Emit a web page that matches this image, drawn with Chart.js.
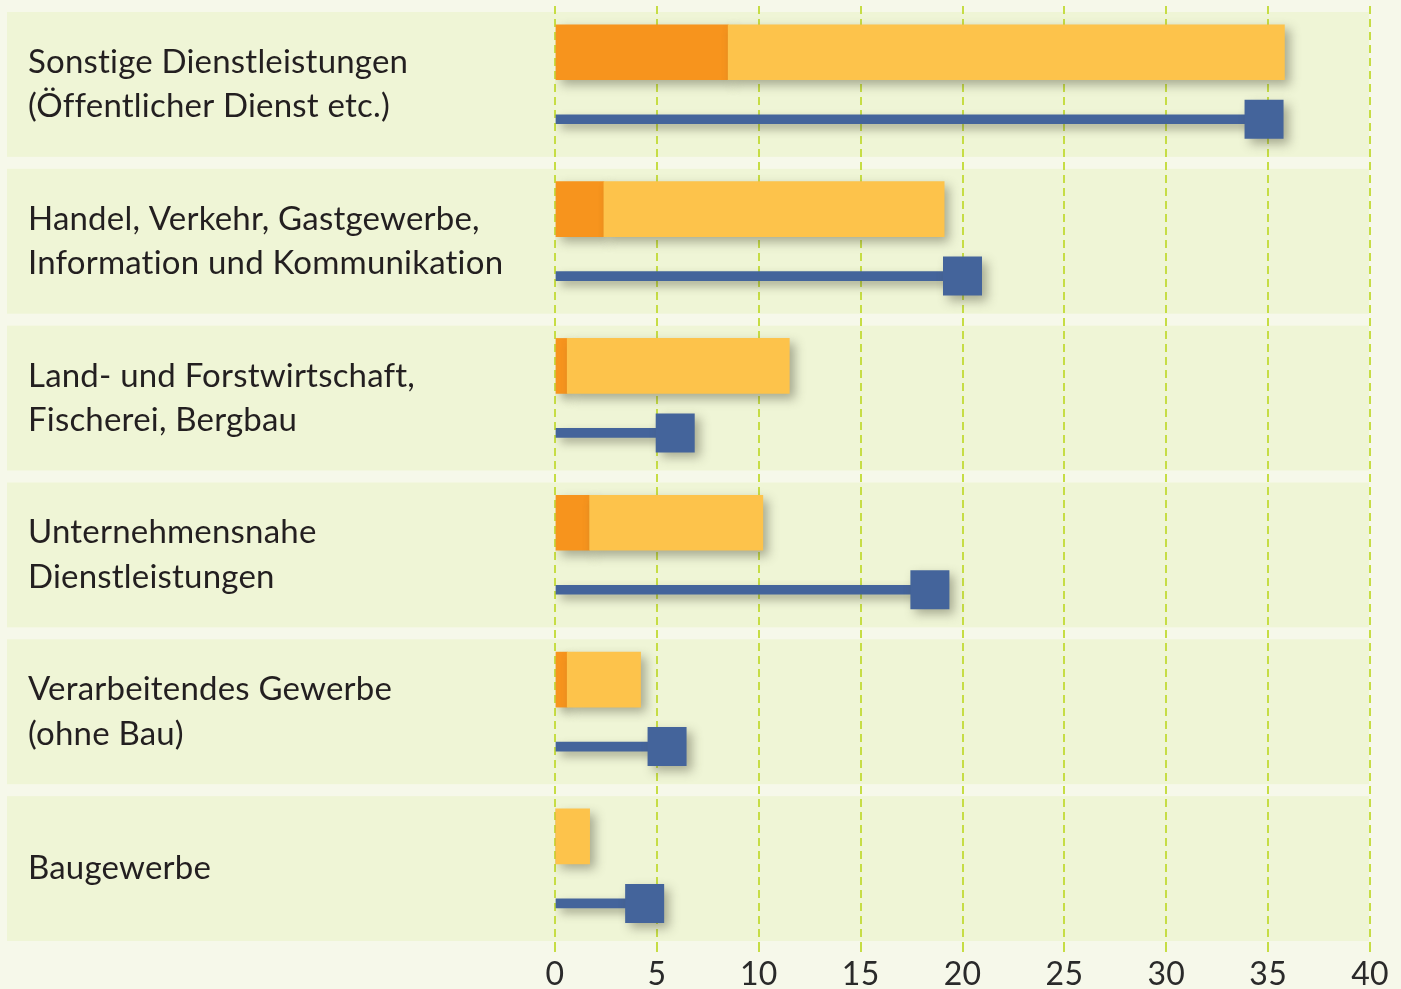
<!DOCTYPE html>
<html>
<head>
<meta charset="utf-8">
<script src="https://cdn.jsdelivr.net/npm/chart.js@4/dist/chart.umd.min.js"></script>
<style>
  html, body { margin: 0; padding: 0; background: #f6f8ea; }
  #wrap { width: 1401px; height: 989px; position: relative; }
</style>
</head>
<body>
<div id="wrap"><canvas id="c"></canvas></div>
<script>
// ---- data ----
const categories = [
  ["Sonstige Dienstleistungen", "(Öffentlicher Dienst etc.)"],
  ["Handel, Verkehr, Gastgewerbe,", "Information und Kommunikation"],
  ["Land- und Forstwirtschaft,", "Fischerei, Bergbau"],
  ["Unternehmensnahe", "Dienstleistungen"],
  ["Verarbeitendes Gewerbe", "(ohne Bau)"],
  ["Baugewerbe"]
];
const darkValues  = [8.5, 2.4, 0.6, 1.7, 0.6, 0];
const totalValues = [35.8, 19.1, 11.5, 10.2, 4.2, 1.7];
const lineValues  = [34.8, 20.0, 5.9, 18.4, 5.5, 4.4];
const xTicks = [0, 5, 10, 15, 20, 25, 30, 35, 40];

// ---- style ----
const FONT = "Lato, 'Open Sans', sans-serif";
const DARK = '#f7941d', LIGHT = '#fdc34b', BLUE = '#44649b';
const BAR_OFF = -0.205;   // position of the bar row inside a category (category units)
const LINE_OFF = 0.222;   // position of the lollipop row inside a category
const SQUARE_SIDE = 39;

const shadowPlugin = {
  id: 'shadow',
  beforeDatasetDraw(chart) {
    const ctx = chart.ctx;
    ctx.save();
    ctx.shadowColor = 'rgba(70,70,50,0.42)';
    ctx.shadowBlur = 10;
    ctx.shadowOffsetX = 5;
    ctx.shadowOffsetY = 5;
  },
  afterDatasetDraw(chart) { chart.ctx.restore(); }
};

const panelPlugin = {
  id: 'panels',
  beforeDraw(chart) {
    const ctx = chart.ctx, ca = chart.chartArea, y = chart.scales.y;
    ctx.save();
    ctx.fillStyle = '#f6f8ea';
    ctx.fillRect(0, 0, chart.width, chart.height);
    const step = ca.height / categories.length;
    ctx.fillStyle = '#eff5d6';
    categories.forEach((c, i) => {
      const cy = y.getPixelForTick(i);
      ctx.fillRect(7, cy - step / 2 + 6, ca.right - 8, step - 12);
    });
    ctx.restore();
    // tiny letter spacing keeps "ti" from forming a ligature
    if ('letterSpacing' in ctx) ctx.letterSpacing = '0.2px';
  }
};

const barCommon = { yAxisID: 'yl', grouped: false, borderWidth: 0 };

new Chart(document.getElementById('c'), {
  type: 'bar',
  data: {
    labels: categories,
    datasets: [
      Object.assign({ label: 'dark', order: 2, backgroundColor: DARK, barThickness: 55,
        data: darkValues.map((v, i) => ({ x: [0, v], y: i + BAR_OFF })) }, barCommon),
      Object.assign({ label: 'light', order: 1, backgroundColor: LIGHT, barThickness: 55,
        data: darkValues.map((d, i) => ({ x: [d, totalValues[i]], y: i + BAR_OFF })) }, barCommon),
      Object.assign({ label: 'stem', order: 3, backgroundColor: BLUE, barThickness: 9,
        data: lineValues.map((v, i) => ({ x: [0, v], y: i + LINE_OFF })) }, barCommon),
      { type: 'line', label: 'marker', yAxisID: 'yl', order: 0,
        data: lineValues.map((v, i) => ({ x: v, y: i + LINE_OFF })),
        showLine: false, pointStyle: 'rect',
        pointRadius: SQUARE_SIDE / 2 / Math.SQRT1_2, pointHoverRadius: SQUARE_SIDE / 2 / Math.SQRT1_2,
        pointBackgroundColor: BLUE, pointBorderWidth: 0, borderWidth: 0 }
    ]
  },
  options: {
    indexAxis: 'y',
    responsive: true,
    maintainAspectRatio: false,
    animation: false,
    events: [],
    layout: { autoPadding: false, padding: { left: 28, right: 31, top: 6, bottom: 0 } },
    plugins: { legend: { display: false }, tooltip: { enabled: false } },
    scales: {
      x: {
        type: 'linear', min: 0, max: 40, stacked: false,
        afterBuildTicks(s) { s.ticks = xTicks.map(v => ({ value: v })); },
        grid: { color: '#c6dd45', lineWidth: 2, drawTicks: true, tickLength: 5,
                tickColor: '#c6dd45', tickWidth: 2, tickBorderDash: [8, 5] },
        border: { display: false, dash: [8, 5] },
        ticks: { color: '#2a2a2a', font: { family: FONT, size: 32, lineHeight: 1.2 }, padding: 3 },
        afterFit(s) { s.height = 42; s.paddingLeft = 0; s.paddingRight = 0; }
      },
      y: {
        type: 'category', offset: true,
        grid: { display: false },
        border: { display: false },
        ticks: { crossAlign: 'far', color: '#231f20', padding: 0,
                 font: { family: FONT, size: 33, lineHeight: 1.34 } },
        afterFit(s) { s.width = 527; s.paddingTop = 0; s.paddingBottom = 0; }
      },
      yl: {
        type: 'linear', display: false, reverse: true, offset: false,
        min: -0.5, max: 5.5, grace: 0
      }
    }
  },
  plugins: [panelPlugin, shadowPlugin]
});
</script>
</body>
</html>
